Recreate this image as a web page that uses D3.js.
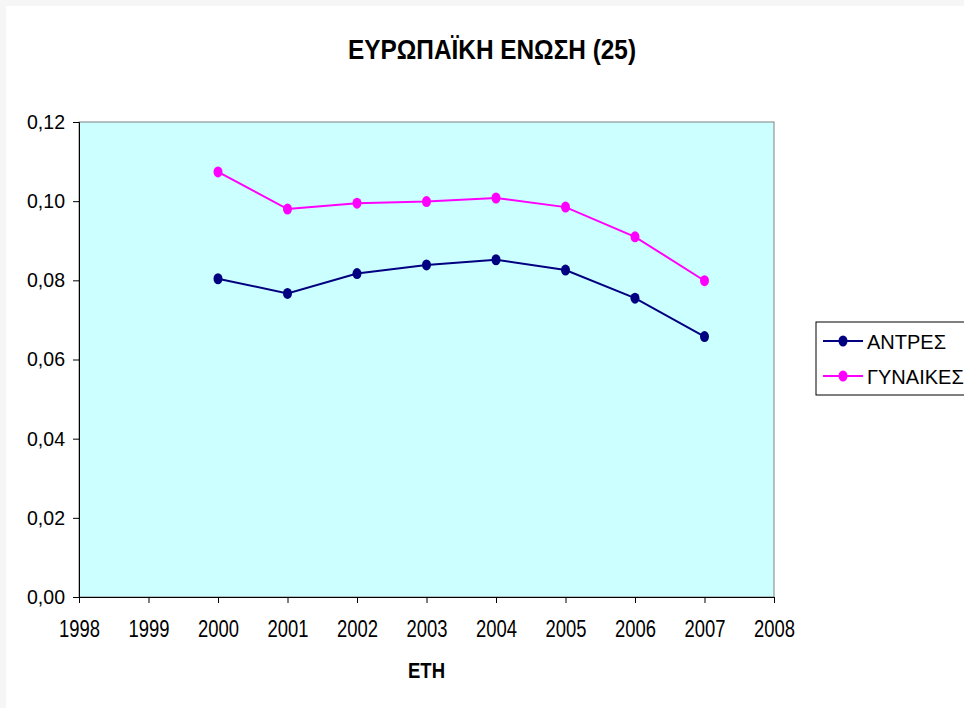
<!DOCTYPE html>
<html lang="el">
<head>
<meta charset="UTF-8">
<title>ΕΥΡΩΠΑΪΚΗ ΕΝΩΣΗ (25)</title>
<script src="https://cdn.jsdelivr.net/npm/d3@7"></script>
<style>
  html, body { margin: 0; padding: 0; background: #fff; }
  svg { display: block; font-family: 'Liberation Sans', Arial, sans-serif; }
</style>
</head>
<body>
<svg id="chart" width="964" height="708"></svg>
<script>
// data
const years = [2000, 2001, 2002, 2003, 2004, 2005, 2006, 2007];
const antres = [0.0804, 0.0767, 0.0817, 0.0839, 0.0852, 0.0826, 0.0755, 0.0658];
const gynaikes = [0.1074, 0.0980, 0.0995, 0.0999, 0.1008, 0.0985, 0.0910, 0.0799];
const xTicks = [1998, 1999, 2000, 2001, 2002, 2003, 2004, 2005, 2006, 2007, 2008];
const yTicks = [0, 0.02, 0.04, 0.06, 0.08, 0.10, 0.12];
const seriesNames = ['ΑΝΤΡΕΣ', 'ΓΥΝΑΙΚΕΣ'];
const seriesColors = ['#000080', '#ff00ff'];

const svg = d3.select('#chart');
const W = 964, H = 708;
const plot = { left: 79, right: 774, top: 122, bottom: 597 };
const font = "'Liberation Sans', Arial, sans-serif";

// faint scan edge of the original
svg.append('rect').attr('width', W).attr('height', H).attr('fill', '#f6f6f6');
svg.append('rect').attr('x', 6).attr('y', 6).attr('width', W).attr('height', H).attr('fill', '#fff');

const x = d3.scaleLinear().domain([1998, 2008]).range([plot.left, plot.right]);
const y = d3.scaleLinear().domain([0, 0.12]).range([plot.bottom, plot.top]);

// plot area
svg.append('rect')
  .attr('x', plot.left).attr('y', plot.top)
  .attr('width', plot.right - plot.left).attr('height', plot.bottom - plot.top)
  .attr('fill', '#ccffff').attr('stroke', '#808080').attr('stroke-width', 1);

// title (narrow, tall lettering like the original)
svg.append('text')
  .attr('x', 492).attr('y', 59)
  .attr('text-anchor', 'middle')
  .attr('font-size', 28).attr('font-weight', 'bold')
  .attr('textLength', 288).attr('lengthAdjust', 'spacingAndGlyphs')
  .text('ΕΥΡΩΠΑΪΚΗ ΕΝΩΣΗ (25)');

// y axis
const yAxis = svg.append('g')
  .attr('transform', `translate(${plot.left},0)`)
  .call(d3.axisLeft(y).tickValues(yTicks).tickSize(6).tickPadding(8)
    .tickFormat(d => d3.format('.2f')(d).replace('.', ',')));
yAxis.select('.domain').attr('stroke', '#000');
yAxis.selectAll('.tick line').attr('stroke', '#000');
yAxis.selectAll('.tick text').attr('font-size', 20).attr('fill', '#000')
  .attr('font-family', font)
  .attr('textLength', 38).attr('lengthAdjust', 'spacingAndGlyphs');

// x axis
const xAxis = svg.append('g')
  .attr('transform', `translate(0,${plot.bottom})`)
  .call(d3.axisBottom(x).tickValues(xTicks).tickSize(6).tickPadding(18).tickFormat(d3.format('d')));
xAxis.select('.domain').attr('stroke', '#000');
xAxis.selectAll('.tick line').attr('stroke', '#000');
xAxis.selectAll('.tick text').attr('font-size', 23).attr('fill', '#000')
  .attr('font-family', font)
  .attr('textLength', 41).attr('lengthAdjust', 'spacingAndGlyphs');

// x axis title
svg.append('text')
  .attr('x', (plot.left + plot.right) / 2).attr('y', 678)
  .attr('text-anchor', 'middle')
  .attr('font-size', 22).attr('font-weight', 'bold')
  .attr('textLength', 37).attr('lengthAdjust', 'spacingAndGlyphs')
  .text('ΕΤΗ');

// series
const line = d3.line().x(d => x(d.year)).y(d => y(d.value));
[antres, gynaikes].forEach((vals, i) => {
  const pts = years.map((yr, j) => ({ year: yr, value: vals[j] }));
  const g = svg.append('g');
  g.append('path').datum(pts)
    .attr('d', line).attr('fill', 'none')
    .attr('stroke', seriesColors[i]).attr('stroke-width', 2);
  g.selectAll('ellipse').data(pts).join('ellipse')
    .attr('cx', d => x(d.year)).attr('cy', d => y(d.value))
    .attr('rx', 4.5).attr('ry', 5.5)
    .attr('fill', seriesColors[i]);
});

// legend
const legend = svg.append('g');
legend.append('rect')
  .attr('x', 816).attr('y', 322).attr('width', 170).attr('height', 73)
  .attr('fill', '#fff').attr('stroke', '#000').attr('stroke-width', 1);
seriesNames.forEach((name, i) => {
  const cy = 341 + i * 35;
  legend.append('line')
    .attr('x1', 823).attr('x2', 863).attr('y1', cy).attr('y2', cy)
    .attr('stroke', seriesColors[i]).attr('stroke-width', 2);
  legend.append('ellipse')
    .attr('cx', 843).attr('cy', cy).attr('rx', 4.5).attr('ry', 5.5)
    .attr('fill', seriesColors[i]);
  legend.append('text')
    .attr('x', 867).attr('y', cy + 7.5)
    .attr('font-size', 20)
    .text(name);
});
</script>
</body>
</html>
